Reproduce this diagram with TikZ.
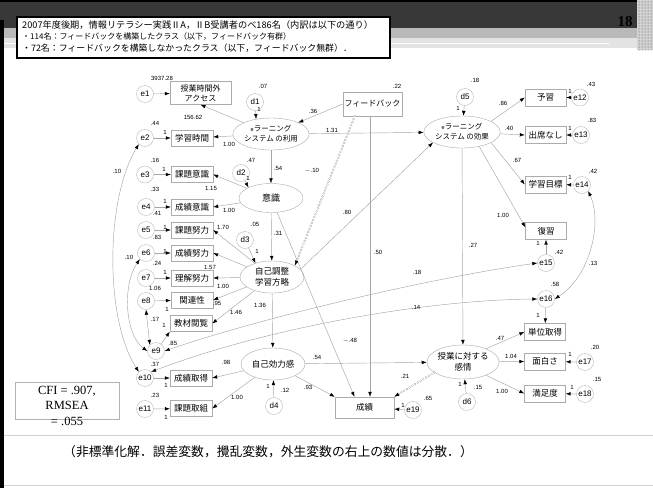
\documentclass[tikz,border=0pt]{standalone}
\usepackage{fontspec}
\setmainfont{Liberation Serif}
\newfontfamily\jp{Noto Sans CJK JP}
\newfontfamily\arl{Liberation Sans}
\usetikzlibrary{shapes.geometric,arrows.meta,calc,patterns}
\newcommand{\smalle}{{\arl\fontsize{5.5}{6}\selectfont e}}
\begin{document}
\begin{tikzpicture}[x=1pt,y=-1pt,
  box/.style={draw=gray!65,fill=white,rectangle,minimum width=42pt,minimum height=16pt,inner sep=0pt,font=\jp\fontsize{8.5}{9}\selectfont},
  rbox/.style={box,minimum width=41pt,minimum height=17pt},
  lat/.style={draw=gray!65,fill=white,ellipse,minimum width=64pt,minimum height=31pt,inner sep=0pt,align=center,font=\jp\fontsize{8.5}{10.5}\selectfont},
  err/.style={draw=gray!55,fill=white,circle,minimum size=17pt,inner sep=0pt,font=\arl\fontsize{8}{9}\selectfont},
  num/.style={inner sep=0pt,font=\arl\fontsize{6}{6}\selectfont},
  pth/.style={draw=gray!70,line width=0.45pt,-{Latex[length=5pt,width=3.6pt,color=black]}},
  cov/.style={draw=gray!70,line width=0.45pt,{Latex[length=5pt,width=3.6pt,color=black]}-{Latex[length=5pt,width=3.6pt,color=black]}},
  ringo/.style={draw=gray!60,line width=2.6pt,dash pattern=on 0pt off 3.2pt,line cap=round},
  ringi/.style={draw=white,line width=1.3pt,dash pattern=on 0pt off 3.2pt,line cap=round}
]
\useasboundingbox (0,0) rectangle (653,488);
% ---------- slide frame ----------
\fill[white] (0,0) rectangle (653,488);
\fill[black!78] (0,0) rectangle (653,28);
\fill[black] (0,0) rectangle (653,2);
\fill[gray!55] (0,28) rectangle (653,38);
\fill[gray!22] (0,38) rectangle (653,48);
\draw[white,line width=1.4pt] (0,43.5) -- (609,43.5);
\fill[gray!35] (637,0) rectangle (653,50);
\fill[pattern=dots,pattern color=black!75] (637,0) rectangle (653,50);
\fill[black] (0,20) rectangle (4,488);
\draw[gray!35,line width=0.8pt] (4,435) -- (653,435);
\draw[gray!35,line width=0.8pt] (4,485) -- (653,485);
\node[font=\bfseries\fontsize{15}{15}\selectfont,inner sep=0pt] (pg) at (625,22) {18};
% header box
\node[draw=black,line width=1.2pt,fill=white,minimum width=373pt,minimum height=41pt,inner sep=0pt] (hdr) at (203.5,37.5) {};
\node[anchor=west,inner sep=0pt,font=\jp\fontsize{9.2}{9}\selectfont] (h1) at (22,25.5) {2007年度後期，情報リテラシー実践ⅡA，ⅡB受講者のべ186名（内訳は以下の通り）};
\node[anchor=west,inner sep=0pt,font=\jp\fontsize{8}{9}\selectfont] (h2) at (22,37) {・114名：フィードバックを構築したクラス（以下，フィードバック有群）};
\node[anchor=west,inner sep=0pt,font=\jp\fontsize{8.9}{9}\selectfont] (h3) at (22,48.5) {・72名：フィードバックを構築しなかったクラス（以下，フィードバック無群）．};
% ---------- observed variables ----------
\node[box,minimum width=61pt,minimum height=23pt,align=center,font=\jp\fontsize{8}{10}\selectfont] (acc) at (200.5,93) {授業時間外\\アクセス};
\node[box] (gakushu) at (192,138) {学習時間};
\node[box] (kadaiI) at (192,174.5) {課題意識};
\node[box] (seisekiI) at (192,207) {成績意識};
\node[box] (kadaiD) at (192,230) {課題努力};
\node[box] (seisekiD) at (192,253) {成績努力};
\node[box] (rikaiD) at (192,278) {理解努力};
\node[box] (kanren) at (192,300) {関連性};
\node[box] (kyozai) at (191,323.5) {教材閲覧};
\node[box] (seisekiS) at (191,378) {成績取得};
\node[box] (kadaiT) at (191,408.5) {課題取組};
\node[rbox] (yoshu) at (545.5,97.5) {予習};
\node[rbox] (shusseki) at (545.5,135) {出席なし};
\node[rbox] (mokuhyo) at (545.5,184.5) {学習目標};
\node[rbox] (fukushu) at (546,231) {復習};
\node[rbox] (tani) at (545,332) {単位取得};
\node[rbox] (omoshiro) at (545,361.5) {面白さ};
\node[rbox] (manzoku) at (545,393.5) {満足度};
\node[box,minimum width=59pt,minimum height=24pt,font=\jp\fontsize{8}{9}\selectfont] (fb) at (372.5,104) {フィードバック};
\node[box,minimum width=59pt,minimum height=21pt,font=\jp\fontsize{8.5}{9}\selectfont] (seiseki) at (364.5,407.5) {成績};
% ---------- latent variables ----------
\node[lat,minimum width=62pt,minimum height=32pt,font=\jp\fontsize{7.5}{10}\selectfont] (riyo) at (271,134) {\smalle ラーニング\\システム の利用};
\node[lat,minimum height=29pt,font=\jp\fontsize{9}{10}\selectfont] (ishiki) at (271,198) {意識};
\node[lat,minimum height=32pt] (jikoch) at (272,277) {自己調整\\学習方略};
\node[lat,minimum height=32pt] (jikoko) at (273,364) {自己効力感};
\node[lat,minimum width=62pt,minimum height=32pt,font=\jp\fontsize{7.5}{10}\selectfont] (koka) at (462,132) {\smalle ラーニング\\システム の効果};
\node[lat,minimum width=66pt,minimum height=34pt] (kanjo) at (463,362) {授業に対する\\感情};
% ---------- errors / disturbances ----------
\node[err] (e1) at (145,94) {e1};
\node[err] (e2) at (145,138) {e2};
\node[err] (e3) at (145,174.5) {e3};
\node[err] (e4) at (146,207) {e4};
\node[err] (e5) at (146,230) {e5};
\node[err] (e6) at (146,253) {e6};
\node[err] (e7) at (146,278) {e7};
\node[err] (e8) at (146,301) {e8};
\node[err] (e9) at (156,351) {e9};
\node[err] (e10) at (145,378) {e10};
\node[err] (e11) at (145,409) {e11};
\node[err] (e12) at (580,97.5) {e12};
\node[err] (e13) at (581,135) {e13};
\node[err] (e14) at (582,185) {e14};
\node[err] (e15) at (546,263) {e15};
\node[err] (e16) at (546,299) {e16};
\node[err] (e17) at (585,362) {e17};
\node[err] (e18) at (585,394) {e18};
\node[err] (e19) at (413,410) {e19};
\node[err] (d1) at (255,102) {d1};
\node[err] (d2) at (241,173) {d2};
\node[err] (d3) at (245,240) {d3};
\node[err] (d4) at (274,406) {d4};
\node[err] (d5) at (465,97) {d5};
\node[err] (d6) at (467,402) {d6};
% ---------- paths ----------
\foreach \a/\b in {e1/acc,e2/gakushu,e3/kadaiI,e4/seisekiI,e5/kadaiD,e6/seisekiD,e7/rikaiD,e8/kanren,e10/seisekiS,e11/kadaiT,e12/yoshu,e13/shusseki,e14/mokuhyo,e15/fukushu,e16/tani,e17/omoshiro,e18/manzoku,e19/seiseki,d4/jikoko,d5/koka,d6/kanjo}
  \draw[pth] (\a) -- (\b);
\draw[pth] (e9) -- (kyozai.south west);
\draw[pth] (d1) -- (riyo.135);
\draw[pth] (d2) -- (ishiki.155);
\draw[pth] (d3) -- (jikoch.140);
\draw[pth] (riyo) -- (acc.south);
\draw[pth] (riyo) -- (gakushu);
\draw[pth] (riyo) -- (ishiki);
\draw[pth] (riyo) -- (koka);
\draw[pth] (fb.west) -- (riyo);
\draw[pth] ([xshift=-2.5pt]fb.south) -- ([xshift=5.5pt]seiseki.north);
\draw[pth] (ishiki) -- (kadaiI.east);
\draw[pth] (ishiki) -- (seisekiI.east);
\draw[pth] (ishiki) -- (jikoch);
\draw[pth] (ishiki) -- ([xshift=-10pt]seiseki.north);
\draw[pth] (jikoch) -- (kadaiD.east);
\draw[pth] (jikoch) -- (seisekiD.east);
\draw[pth] (jikoch) -- (rikaiD.east);
\draw[pth] (jikoch) -- (kanren.east);
\draw[pth] (jikoch) -- (kyozai.east);
\draw[pth] (jikoch) -- (jikoko);
\draw[pth] (jikoch.15) -- (koka.200);
\draw[pth] (jikoko) -- (seisekiS.east);
\draw[pth] (jikoko) -- (kadaiT.east);
\draw[pth] (jikoko) -- (kanjo);
\draw[pth] (jikoko) -- (seiseki.north west);
\draw[pth] (koka.20) -- (yoshu.west);
\draw[pth] (koka) -- (shusseki.west);
\draw[pth] (koka.-20) -- (mokuhyo.west);
\draw[pth] (koka.-40) -- ([yshift=-5pt]fukushu.north west);
\draw[pth] (koka) -- (kanjo);
\draw[pth] (kanjo.30) -- (tani.west);
\draw[pth] (kanjo) -- (omoshiro.west);
\draw[pth] (kanjo.-30) -- (manzoku.west);
% ring (interaction) paths
\coordinate (fbo) at ([xshift=12pt]fb.south west);
\coordinate (jne) at (jikoch.north east);
\coordinate (kso) at (kanjo.200);
\coordinate (sne) at (seiseki.north east);
\draw[ringo] (fbo) -- ($(jne)!4pt!(fbo)$);
\draw[ringi] (fbo) -- ($(jne)!4pt!(fbo)$);
\draw[pth] ($(jne)!6pt!(fbo)$) -- (jne);
\draw[ringo] (kso) -- ($(sne)!4pt!(kso)$);
\draw[ringi] (kso) -- ($(sne)!4pt!(kso)$);
\draw[pth] ($(sne)!6pt!(kso)$) -- (sne);
% covariances
\draw[cov] (e2.south west) .. controls (105,200) and (105,320) .. (e10.north west);
\draw[cov] (e6.south west) .. controls (122,285) and (125,335) .. (e9.west);
\draw[cov] (e8.south) -- (e9.north west);
\draw[cov] (e9.east) .. controls (260,318) and (430,278) .. (e15.west);
\draw[cov] (e10.north east) .. controls (260,330) and (420,300) .. (e16.west);
\draw[cov] (e14.south east) .. controls (602,220) and (592,275) .. (e16.east);
% ---------- numbers ----------
\foreach \p/\t in {
 {162,78}/3937.28, {263,86}/.07, {259,109}/1, {193,117}/156.62, {313,111}/.36, {332,130}/1.31,
 {155,123}/.44, {165,132}/1, {229,144}/1.00, {155,160}/.16, {164,169}/1, {251,160}/.47, {248,178}/1,
 {278,168}/.54, {312,171}/$-$.10, {211,188}/1.15, {155,189}/.33, {165,201}/1, {229,210}/1.00,
 {223,227}/1.70, {157,213}/.41, {165,227}/1, {255,224}/.05, {278,233}/.31, {157,237}/.83, {165,251}/1,
 {257,251}/1, {347,212}/.80, {378,252}/.50, {117,171}/.10, {129,257}/.10, {157,263}/.24, {210,267}/1.57,
 {165,272}/1, {417,272}/.18, {155,288}/1.06, {223,286}/1.00, {217,303}/.95, {167,309}/1, {260,305}/1.36,
 {416,307}/.14, {236,312}/1.46, {155,319}/.17, {164,325}/1, {173,343}/.85, {155,364}/.37, {226,362}/.98,
 {317,357}/.54, {350,341}/$-$.48, {166,385}/1, {268,386}/1, {285,390}/.12, {308,387}/.93, {155,395}/.23,
 {237,397}/1.00, {405,376}/.21, {428,398}/.65, {403,405}/1, {166,417}/1,
 {397,86}/.22, {475,80}/.18, {458,108}/1, {503,103}/.86, {591,84}/.43, {570,91}/1, {509,128}/.40,
 {592,120}/.83, {570,128}/1, {517,160}/.67, {593,171}/.42, {570,177}/1, {503,215}/1.00, {473,245}/.27,
 {538,243}/1, {559,252}/.42, {593,263}/.13, {555,284}/.58, {538,315}/1, {500,338}/.47, {511,356}/1.04,
 {570,354}/1, {595,347}/.20, {460,384}/1, {478,387}/.15, {502,391}/1.00, {572,387}/1, {597,379}/.15}
 \node[num] at (\p) {\t};
% ---------- fit box and note ----------
\node[draw=gray!60,minimum width=104pt,minimum height=37pt,inner sep=0pt] (cfibox) at (67,400.5) {};
\node[align=center,inner sep=0pt,font=\fontsize{12.5}{15.5}\selectfont] (cfi) at (67,405.5) {CFI = .907,\\RMSEA\\= .055};
\node[anchor=west,inner sep=0pt,font=\jp\fontsize{12.8}{13}\selectfont] (note) at (63,452) {（非標準化解．誤差変数，攪乱変数，外生変数の右上の数値は分散．）};
\end{tikzpicture}
\end{document}
